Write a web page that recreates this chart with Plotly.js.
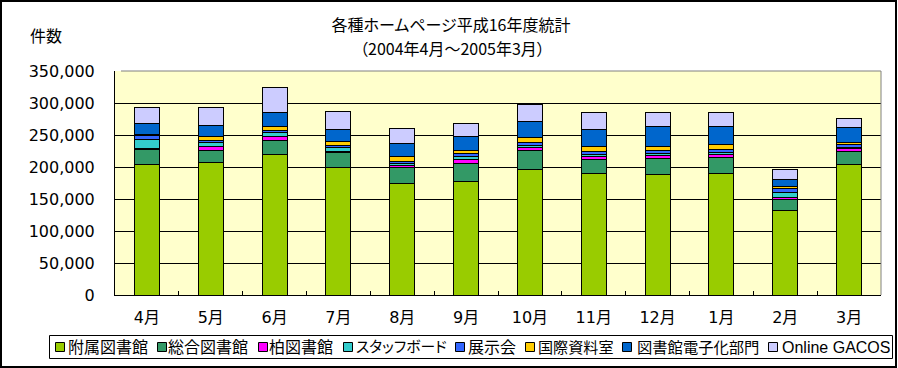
<!DOCTYPE html>
<html>
<head>
<meta charset="utf-8">
<script src="https://cdn.plot.ly/plotly-3.0.1.min.js"></script>
<style>
html,body{margin:0;padding:0;background:#fff;}
svg text{font-feature-settings:"palt" 1 !important;}
</style>
</head>
<body>
<div id="chart" style="width:898px;height:368px;"></div>
<script>
// ---- data ----
const months = ['4月','5月','6月','7月','8月','9月','10月','11月','12月','1月','2月','3月'];
const fuzoku   = [204000, 207000, 219000, 199500, 174500, 177500, 196000, 189500, 188000, 189500, 132300, 203500]; // 附属図書館
const sogo     = [ 24000,  19500,  23000,  23500,  25500,  28500,  30500,  23000,  26000,  26000,  17700,  21500]; // 総合図書館
const kashiwa  = [   500,   6000,   6000,   2000,   3000,   6000,   3500,   3500,   3500,   3500,   3000,   3500]; // 柏図書館
const staff    = [ 15000,   5500,   6000,   5000,   3000,   4000,   3500,   3500,   4000,   3500,   7000,   1500]; // スタッフボード
const tenji    = [  5000,   3000,   3000,   3000,   3000,   4500,   5000,   5500,   4000,   5000,   6000,   5000]; // 展示会
const kokusai  = [  2000,   6000,   7000,   7500,   8000,   5000,   7500,   7500,   7000,   8000,   3000,   3500]; // 国際資料室
const denshika = [ 17000,  18500,  21500,  18000,  20500,  22500,  24500,  26000,  31000,  28000,  12000,  24000]; // 図書館電子化部門
const gacos    = [ 25700,  28200,  38000,  29000,  22000,  20500,  26500,  26000,  21000,  21000,  15000,  14000]; // Online GACOS

const seriesNames = ['附属図書館','総合図書館','柏図書館','スタッフボード','展示会','国際資料室','図書館電子化部門','Online GACOS'];
const seriesData = [fuzoku, sogo, kashiwa, staff, tenji, kokusai, denshika, gacos];
const seriesColors = ['#99CC00','#339966','#FF00FF','#33CCCC','#3366FF','#FFCC00','#0066CC','#CCCCFF'];

const titleLine1 = '各種ホームページ平成16年度統計';
const titleLine2 = '（2004年4月～2005年3月）';

// ---- layout geometry ----
const W = 898, H = 368;
const M = {l:115, r:17, t:71, b:73};
const PW = W - M.l - M.r, PH = H - M.t - M.b;
const px = x => (x - M.l) / PW;
const py = y => (H - M.b - y) / PH;

const traces = seriesData.map((vals, i) => ({
  type: 'bar',
  name: seriesNames[i],
  x: months,
  y: vals,
  marker: {color: seriesColors[i], line: {color: '#000', width: 1}},
  hoverinfo: 'x+y+name'
}));

const shapes = [];
const annotations = [];

// plot area top and right border (grey)
shapes.push({type:'line', xref:'paper', yref:'paper', x0:px(121), x1:1, y0:1, y1:1, line:{color:'#808080', width:1}, layer:'above'});
shapes.push({type:'line', xref:'paper', yref:'paper', x0:1, x1:1, y0:0, y1:1, line:{color:'#808080', width:1}, layer:'above'});
// outer frame
shapes.push({type:'rect', xref:'paper', yref:'paper', x0:px(1), x1:px(896), y0:py(1), y1:py(367), line:{color:'#000', width:2}, layer:'above'});
// legend box
shapes.push({type:'rect', xref:'paper', yref:'paper', x0:px(49.5), x1:px(892.5), y0:py(335.5), y1:py(358.5), line:{color:'#000', width:1}, fillcolor:'#fff', layer:'above'});

const swatchX = [55, 157, 258, 343, 455, 525, 622, 768];
const textX   = [68, 168, 269, 356, 468, 538, 637, 782];
const legendAnnIdx = [];
seriesNames.forEach((n, i) => {
  shapes.push({type:'rect', xref:'paper', yref:'paper',
    x0:px(swatchX[i] + 0.5), x1:px(swatchX[i] + 9.5), y0:py(342.5), y1:py(351.5),
    line:{color:'#000', width:1}, fillcolor:seriesColors[i], layer:'above'});
  legendAnnIdx.push(annotations.length);
  annotations.push({xref:'paper', yref:'paper', x:px(textX[i] - 2), y:py(347), xanchor:'left', yanchor:'middle',
    text:n, showarrow:false, font:{family:'Liberation Sans, Noto Sans CJK JP', size:16, color:'#000'}});
});

// y-axis unit label
annotations.push({xref:'paper', yref:'paper', x:px(46), y:py(35), xanchor:'center', yanchor:'middle',
  text:'件数', showarrow:false, font:{family:'Noto Sans CJK JP', size:16, color:'#000'}});
// title second line
annotations.push({xref:'paper', yref:'paper', x:px(452), y:py(48), xanchor:'center', yanchor:'middle',
  text:titleLine2, showarrow:false, font:{family:'Noto Sans CJK JP', size:16, color:'#000'}});

const layout = {
  width: W, height: H,
  margin: M,
  paper_bgcolor: '#fff',
  plot_bgcolor: '#FFFFCC',
  barmode: 'stack',
  bargap: 0.61,
  showlegend: false,
  title: {
    text: titleLine1,
    font: {family: 'Noto Sans CJK JP', size: 16, color: '#000'},
    x: 451 / W, xref: 'container', xanchor: 'center',
    y: 1 - 25 / H, yref: 'container', yanchor: 'middle'
  },
  xaxis: {
    type: 'category',
    showline: true, linecolor: '#000', linewidth: 1,
    ticks: 'inside', tickson: 'boundaries', ticklen: 4, tickcolor: '#000', tickwidth: 1,
    showgrid: false, zeroline: false,
    tickfont: {family: 'DejaVu Sans, Noto Sans CJK JP', size: 16, color: '#000'},
    ticklabelstandoff: 8
  },
  yaxis: {
    range: [0, 350000], dtick: 50000, tick0: 0,
    tickformat: ',d',
    showline: true, linecolor: '#000', linewidth: 1,
    ticks: 'inside', ticklen: 6, tickcolor: '#000', tickwidth: 1,
    showgrid: true, gridcolor: '#000', gridwidth: 1,
    zeroline: false,
    tickfont: {family: 'DejaVu Sans', size: 16, color: '#000'},
    ticklabelstandoff: 16
  },
  shapes: shapes,
  annotations: annotations
};

Plotly.newPlot('chart', traces, layout, {staticPlot: true, displayModeBar: false}).then(gd => {
  // shrink any legend label that would run into the next legend swatch
  const nodes = gd.querySelectorAll('.annotation-text');
  const updates = {};
  legendAnnIdx.forEach((ai, k) => {
    const node = nodes[ai];
    if (!node || k === legendAnnIdx.length - 1) return;
    const w = node.getBBox().width;
    const avail = swatchX[k + 1] - textX[k] - 8;
    if (w > avail) {
      updates['annotations[' + ai + '].font.size'] = Math.floor(16 * avail / w * 10) / 10;
    }
  });
  if (Object.keys(updates).length) Plotly.relayout(gd, updates);
});
</script>
</body>
</html>
